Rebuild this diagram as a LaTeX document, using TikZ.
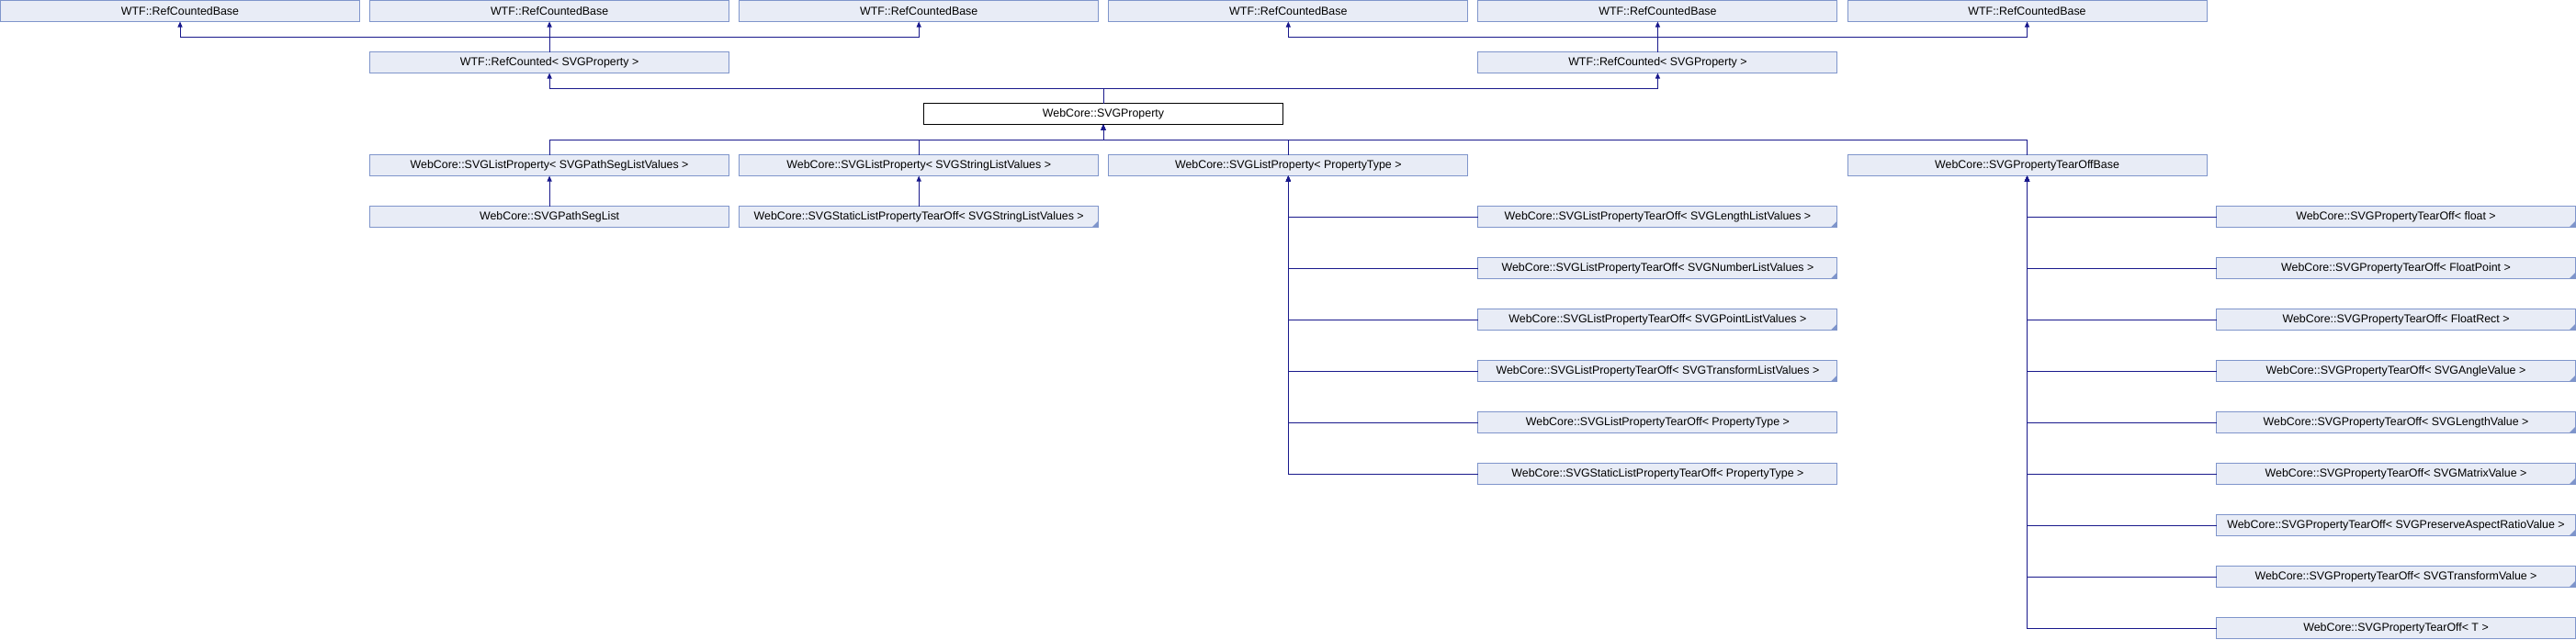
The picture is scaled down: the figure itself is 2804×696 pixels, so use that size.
\documentclass[tikz,border=0pt]{standalone}
\usepackage{fontspec}
\setmainfont{Liberation Sans}
\usetikzlibrary{arrows.meta}
\definecolor{boxfill}{HTML}{E8ECF6}
\definecolor{boxline}{HTML}{7F95CB}
\definecolor{edgecol}{RGB}{25,25,140}
\newcommand{\cornermark}[1]{\fill[boxline] (#1.south east) ++(-7,0) -- (#1.south east) -- ++(0,7) -- cycle;}
\begin{document}
\begin{tikzpicture}[x=1pt,y=1pt,
  cls/.style={draw=boxline, fill=boxfill, line width=1pt, minimum width=391pt, minimum height=23pt,
    inner sep=0pt, outer sep=0pt, anchor=north west, font=\fontsize{12.4}{14}\selectfont},
  cur/.style={cls, draw=black, fill=white},
  edge/.style={draw=edgecol, line width=1pt, -{Triangle[length=6pt,width=5pt]}}]
\useasboundingbox (0,0) rectangle (2804,-696);
% row 0
\node[cls] (b0) at (0.5,-0.5) {WTF::RefCountedBase};
\node[cls] (b1) at (402.6,-0.5) {WTF::RefCountedBase};
\node[cls] (b2) at (804.7,-0.5) {WTF::RefCountedBase};
\node[cls] (b3) at (1206.8,-0.5) {WTF::RefCountedBase};
\node[cls] (b4) at (1608.9,-0.5) {WTF::RefCountedBase};
\node[cls] (b5) at (2011.0,-0.5) {WTF::RefCountedBase};
% row 1
\node[cls] (rc1) at (402.6,-56.5) {WTF::RefCounted< SVGProperty >};
\node[cls] (rc4) at (1608.9,-56.5) {WTF::RefCounted< SVGProperty >};
% row 2
\node[cur] (svgp) at (1005.5,-112.5) {WebCore::SVGProperty};
% row 3
\node[cls] (lpPath) at (402.6,-168.5) {WebCore::SVGListProperty< SVGPathSegListValues >};
\node[cls] (lpStr) at (804.7,-168.5) {WebCore::SVGListProperty< SVGStringListValues >};
\node[cls] (lpPT) at (1206.8,-168.5) {WebCore::SVGListProperty< PropertyType >};
\node[cls] (tob) at (2011.0,-168.5) {WebCore::SVGPropertyTearOffBase};
% row 4
\node[cls] (pseg) at (402.6,-224.5) {WebCore::SVGPathSegList};
\node[cls] (sstr) at (804.7,-224.5) {WebCore::SVGStaticListPropertyTearOff< SVGStringListValues >};
% column E
\node[cls] (ltLen) at (1608.9,-224.5) {WebCore::SVGListPropertyTearOff< SVGLengthListValues >};
\node[cls] (ltNum) at (1608.9,-280.5) {WebCore::SVGListPropertyTearOff< SVGNumberListValues >};
\node[cls] (ltPt) at (1608.9,-336.5) {WebCore::SVGListPropertyTearOff< SVGPointListValues >};
\node[cls] (ltTr) at (1608.9,-392.5) {WebCore::SVGListPropertyTearOff< SVGTransformListValues >};
\node[cls] (ltPT) at (1608.9,-448.5) {WebCore::SVGListPropertyTearOff< PropertyType >};
\node[cls] (sltPT) at (1608.9,-504.5) {WebCore::SVGStaticListPropertyTearOff< PropertyType >};
% column G
\node[cls] (toF) at (2412.5,-224.5) {WebCore::SVGPropertyTearOff< float >};
\node[cls] (toFP) at (2412.5,-280.5) {WebCore::SVGPropertyTearOff< FloatPoint >};
\node[cls] (toFR) at (2412.5,-336.5) {WebCore::SVGPropertyTearOff< FloatRect >};
\node[cls] (toAn) at (2412.5,-392.5) {WebCore::SVGPropertyTearOff< SVGAngleValue >};
\node[cls] (toLe) at (2412.5,-448.5) {WebCore::SVGPropertyTearOff< SVGLengthValue >};
\node[cls] (toMa) at (2412.5,-504.5) {WebCore::SVGPropertyTearOff< SVGMatrixValue >};
\node[cls] (toPA) at (2412.5,-560.5) {WebCore::SVGPropertyTearOff< SVGPreserveAspectRatioValue >};
\node[cls] (toTr) at (2412.5,-616.5) {WebCore::SVGPropertyTearOff< SVGTransformValue >};
\node[cls] (toT) at (2412.5,-672.5) {WebCore::SVGPropertyTearOff< T >};
% corner marks
\cornermark{sstr}
\cornermark{ltLen}
\cornermark{ltNum}
\cornermark{ltPt}
\cornermark{ltTr}
\cornermark{toF}
\cornermark{toFP}
\cornermark{toFR}
\cornermark{toAn}
\cornermark{toLe}
\cornermark{toMa}
\cornermark{toPA}
\cornermark{toTr}
% edges to RefCountedBase
\draw[edge] (rc1.north) |- ([yshift=-17pt]b0.south) -- (b0.south);
\draw[edge] (rc1.north) -- (b1.south);
\draw[edge] (rc1.north) |- ([yshift=-17pt]b2.south) -- (b2.south);
\draw[edge] (rc4.north) |- ([yshift=-17pt]b3.south) -- (b3.south);
\draw[edge] (rc4.north) -- (b4.south);
\draw[edge] (rc4.north) |- ([yshift=-17pt]b5.south) -- (b5.south);
% SVGProperty to RefCounted
\draw[edge] (svgp.north) |- ([yshift=-17pt]rc1.south) -- (rc1.south);
\draw[edge] (svgp.north) |- ([yshift=-17pt]rc4.south) -- (rc4.south);
% row 3 to SVGProperty
\draw[edge] (lpPath.north) |- ([yshift=-17pt]svgp.south) -- (svgp.south);
\draw[edge] (lpStr.north) |- ([yshift=-17pt]svgp.south) -- (svgp.south);
\draw[edge] (lpPT.north) |- ([yshift=-17pt]svgp.south) -- (svgp.south);
\draw[edge] (tob.north) |- ([yshift=-17pt]svgp.south) -- (svgp.south);
% row 4
\draw[edge] (pseg.north) -- (lpPath.south);
\draw[edge] (sstr.north) -- (lpStr.south);
% column E to SVGListProperty<PropertyType>
\foreach \n in {ltLen,ltNum,ltPt,ltTr,ltPT,sltPT} {\draw[edge] (\n.west) -| (lpPT.south);}
% column G to SVGPropertyTearOffBase
\foreach \n in {toF,toFP,toFR,toAn,toLe,toMa,toPA,toTr,toT} {\draw[edge] (\n.west) -| (tob.south);}
\end{tikzpicture}
\end{document}
